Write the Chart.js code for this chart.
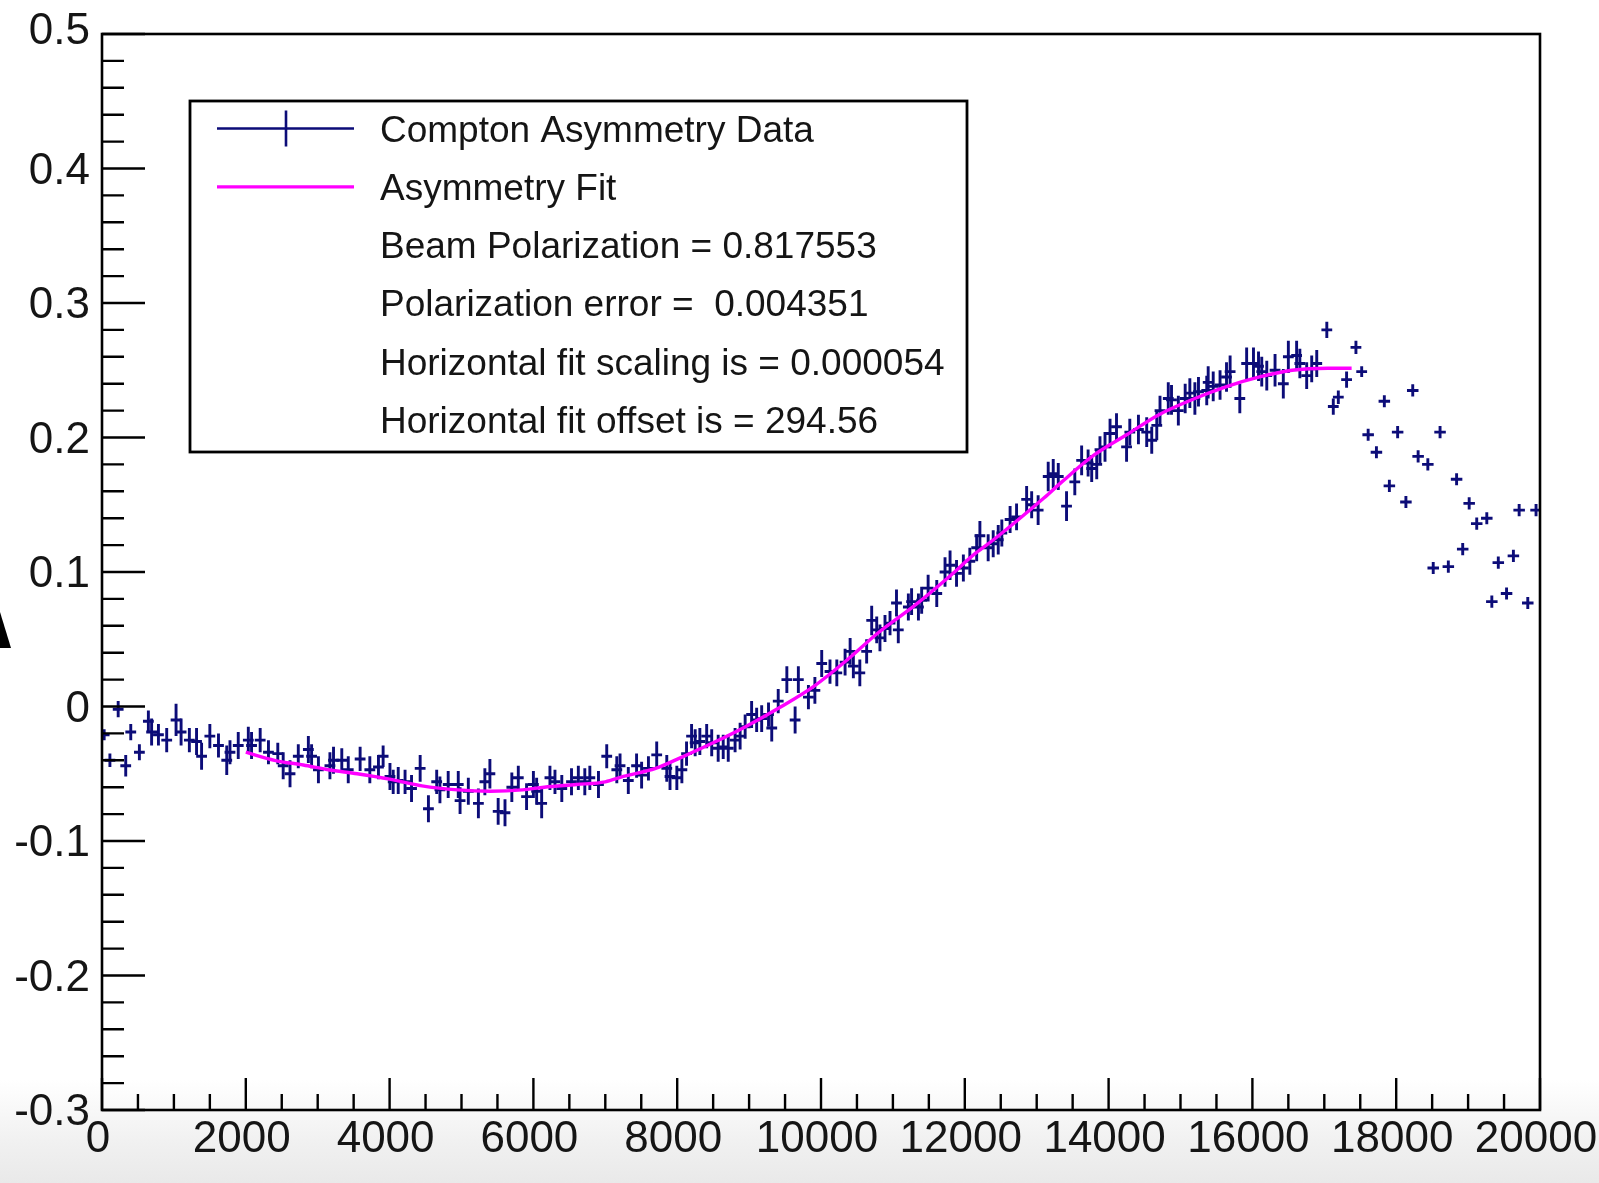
<!DOCTYPE html>
<html>
<head>
<meta charset="utf-8">
<script src="https://cdn.jsdelivr.net/npm/chart.js@4.4.1/dist/chart.umd.min.js"></script>
<style>
  html, body { margin: 0; padding: 0; }
  body {
    width: 1599px; height: 1183px; overflow: hidden;
    background: linear-gradient(to bottom, #ffffff 0px, #ffffff 1080px, #f1f1f1 1140px, #e9e9e9 1183px);
  }
  #wrap { position: relative; width: 1599px; height: 1183px; }
</style>
</head>
<body>
<div id="wrap"><canvas id="c" width="1599" height="1183"></canvas></div>
<script>
// Compton asymmetry data (x = channel, y = asymmetry, yErr = error bar half-height)
const dataX = [
  30, 110, 225, 330, 400, 520, 645, 690, 785, 900,
  1030, 1100, 1215, 1315, 1385, 1500, 1620, 1735, 1780, 1895,
  2035, 2080, 2200, 2315, 2445, 2520, 2615, 2730, 2870, 2915,
  3010, 3170, 3220, 3335, 3425, 3590, 3725, 3845, 3910, 4005,
  4050, 4120, 4215, 4305, 4425, 4540, 4655, 4700, 4815, 4955,
  4980, 5095, 5235, 5325, 5395, 5510, 5605, 5700, 5790, 5905,
  6000, 6045, 6115, 6230, 6300, 6395, 6530, 6625, 6715, 6785,
  6905, 7020, 7160, 7205, 7320, 7435, 7505, 7600, 7715, 7855,
  7900, 7995, 8065, 8130, 8200, 8250, 8315, 8410, 8480, 8570,
  8640, 8710, 8805, 8875, 8945, 9035, 9105, 9175, 9270, 9315,
  9405, 9525, 9640, 9685, 9825, 9915, 10010, 10125, 10220, 10335,
  10405, 10450, 10540, 10635, 10705, 10775, 10820, 10890, 10960, 11050,
  11075, 11215, 11260, 11355, 11400, 11490, 11610, 11725, 11795, 11885,
  11980, 12070, 12165, 12210, 12325, 12395, 12465, 12515, 12630, 12720,
  12860, 12930, 13020, 13160, 13230, 13300, 13415, 13530, 13625, 13715,
  13765, 13835, 13880, 13950, 14020, 14110, 14250, 14295, 14415, 14530,
  14600, 14670, 14715, 14830, 14875, 14970, 15065, 15130, 15200, 15250,
  15365, 15385, 15455, 15550, 15640, 15690, 15825, 15920, 16015, 16085,
  16130, 16200, 16315, 16430, 16500, 16615, 16660, 16755, 16825, 16895,
  17035, 17125, 17195, 17310, 17440, 17520
];
const dataY = [
  -0.021, -0.040, -0.002, -0.044, -0.019, -0.034, -0.011, -0.019, -0.021, -0.025,
  -0.010, -0.019, -0.025, -0.026, -0.037, -0.022, -0.029, -0.040, -0.034, -0.029,
  -0.025, -0.029, -0.025, -0.034, -0.035, -0.044, -0.050, -0.037, -0.032, -0.037,
  -0.047, -0.044, -0.040, -0.040, -0.047, -0.039, -0.047, -0.045, -0.037, -0.052,
  -0.056, -0.055, -0.056, -0.061, -0.046, -0.076, -0.056, -0.062, -0.058, -0.058,
  -0.070, -0.063, -0.072, -0.056, -0.050, -0.078, -0.079, -0.060, -0.053, -0.067,
  -0.058, -0.063, -0.072, -0.053, -0.056, -0.061, -0.056, -0.053, -0.056, -0.053,
  -0.058, -0.037, -0.047, -0.044, -0.055, -0.044, -0.051, -0.046, -0.036, -0.046,
  -0.052, -0.053, -0.047, -0.035, -0.022, -0.027, -0.026, -0.022, -0.027, -0.031,
  -0.030, -0.031, -0.025, -0.022, -0.015, -0.006, -0.010, -0.009, -0.006, -0.016,
  0.004, 0.020, -0.010, 0.020, 0.007, 0.012, 0.032, 0.026, 0.025, 0.033,
  0.041, 0.030, 0.025, 0.041, 0.064, 0.057, 0.051, 0.058, 0.062, 0.077,
  0.057, 0.074, 0.078, 0.074, 0.079, 0.088, 0.084, 0.100, 0.105, 0.099,
  0.103, 0.108, 0.118, 0.127, 0.118, 0.121, 0.124, 0.129, 0.139, 0.141,
  0.154, 0.150, 0.146, 0.171, 0.173, 0.171, 0.149, 0.167, 0.183, 0.181,
  0.177, 0.180, 0.191, 0.193, 0.203, 0.208, 0.193, 0.204, 0.206, 0.204,
  0.198, 0.209, 0.220, 0.229, 0.228, 0.220, 0.229, 0.233, 0.229, 0.234,
  0.235, 0.241, 0.238, 0.239, 0.245, 0.249, 0.229, 0.255, 0.255, 0.253,
  0.249, 0.246, 0.250, 0.240, 0.260, 0.261, 0.255, 0.246, 0.251, 0.255,
  0.280, 0.223, 0.230, 0.243, 0.267, 0.249
];
const dataYErr = [
  0.004, 0.005, 0.006, 0.008, 0.006, 0.006, 0.008, 0.010, 0.008, 0.009,
  0.012, 0.010, 0.009, 0.010, 0.010, 0.009, 0.009, 0.011, 0.009, 0.010,
  0.010, 0.010, 0.009, 0.009, 0.008, 0.010, 0.010, 0.009, 0.010, 0.009,
  0.010, 0.010, 0.010, 0.009, 0.010, 0.009, 0.010, 0.009, 0.008, 0.010,
  0.009, 0.010, 0.009, 0.010, 0.010, 0.010, 0.009, 0.010, 0.010, 0.010,
  0.010, 0.010, 0.011, 0.010, 0.011, 0.010, 0.010, 0.011, 0.009, 0.010,
  0.010, 0.010, 0.011, 0.009, 0.009, 0.010, 0.010, 0.009, 0.010, 0.009,
  0.010, 0.009, 0.010, 0.009, 0.010, 0.009, 0.010, 0.009, 0.010, 0.010,
  0.010, 0.009, 0.010, 0.009, 0.009, 0.010, 0.010, 0.009, 0.010, 0.010,
  0.009, 0.010, 0.009, 0.010, 0.009, 0.010, 0.009, 0.010, 0.009, 0.010,
  0.009, 0.010, 0.010, 0.010, 0.009, 0.010, 0.010, 0.009, 0.010, 0.010,
  0.010, 0.009, 0.010, 0.009, 0.011, 0.010, 0.010, 0.010, 0.009, 0.010,
  0.010, 0.010, 0.010, 0.010, 0.010, 0.010, 0.010, 0.011, 0.011, 0.010,
  0.010, 0.010, 0.010, 0.011, 0.010, 0.010, 0.011, 0.010, 0.010, 0.010,
  0.010, 0.010, 0.011, 0.011, 0.011, 0.010, 0.011, 0.010, 0.011, 0.010,
  0.010, 0.011, 0.010, 0.011, 0.011, 0.010, 0.011, 0.010, 0.011, 0.011,
  0.010, 0.011, 0.011, 0.012, 0.011, 0.011, 0.011, 0.011, 0.012, 0.011,
  0.011, 0.012, 0.011, 0.011, 0.011, 0.012, 0.011, 0.012, 0.012, 0.011,
  0.011, 0.011, 0.012, 0.011, 0.012, 0.011, 0.011, 0.010, 0.010, 0.010,
  0.006, 0.006, 0.005, 0.006, 0.005, 0.004
];
const dataXErr = 75;

// points past the fit range, tiny error bars
const tailX = [17610, 17725, 17835, 17905, 18020, 18135, 18230, 18305, 18440, 18515,
               18610, 18725, 18840, 18925, 19015, 19120, 19260, 19330, 19420, 19535,
               19630, 19710, 19830, 19945];
const tailY = [0.202, 0.189, 0.227, 0.164, 0.204, 0.152, 0.235, 0.186, 0.180, 0.103,
               0.204, 0.104, 0.169, 0.117, 0.151, 0.136, 0.140, 0.078, 0.107, 0.084,
               0.112, 0.146, 0.077, 0.146];
const tailYErr = 0.0045;
const tailXErr = 80;

// asymmetry fit curve
const fitX = [2000, 2400, 2800, 3150, 3550, 4000, 4450, 4950, 5400, 5850, 6150, 6600, 7000,
              7250, 7700, 8050, 8500, 8950, 9450, 9900, 10350, 10800, 11300, 11750, 12150,
              12400, 13100, 13350, 13800, 14250, 14700, 15200, 15650, 16100, 16550, 17050, 17380];
const fitY = [-0.034, -0.040, -0.0435, -0.047, -0.050, -0.054, -0.059, -0.062, -0.063, -0.062,
              -0.060, -0.058, -0.056, -0.052, -0.046, -0.038, -0.027, -0.015, 0.000, 0.015,
              0.034, 0.055, 0.075, 0.095, 0.114, 0.124, 0.155, 0.167, 0.187, 0.202, 0.217,
              0.229, 0.238, 0.245, 0.250, 0.2515, 0.2515];

const xTicks = [0, 2000, 4000, 6000, 8000, 10000, 12000, 14000, 16000, 18000, 20000];
const xTickLabels = ['0', '2000', '4000', '6000', '8000', '10000', '12000', '14000', '16000', '18000', '20000'];
const yTicks = [-0.3, -0.2, -0.1, 0, 0.1, 0.2, 0.3, 0.4, 0.5];
const yTickLabels = ['-0.3', '-0.2', '-0.1', '0', '0.1', '0.2', '0.3', '0.4', '0.5'];

const legendLines = [
  'Compton Asymmetry Data',
  'Asymmetry Fit',
  'Beam Polarization = 0.817553',
  'Polarization error =  0.004351',
  'Horizontal fit scaling is = 0.000054',
  'Horizontal fit offset is = 294.56'
];

const NAVY = '#0c0c78';
const MAGENTA = '#ff00ff';
const FONT = '"Liberation Sans", Arial, Helvetica, sans-serif';

function drawCrosses(chart, meta, xs, ys, errsY, errX) {
  const ctx = chart.ctx, xs_ = chart.scales.x, ys_ = chart.scales.y;
  meta.data.forEach((pt, i) => {
    const ey = Array.isArray(errsY) ? errsY[i] : errsY;
    const x0 = xs_.getPixelForValue(xs[i] - errX), x1 = xs_.getPixelForValue(xs[i] + errX);
    const y0 = ys_.getPixelForValue(ys[i] + ey), y1 = ys_.getPixelForValue(ys[i] - ey);
    ctx.beginPath();
    ctx.moveTo(x0, pt.y); ctx.lineTo(x1, pt.y);
    ctx.moveTo(pt.x, y0); ctx.lineTo(pt.x, y1);
    ctx.stroke();
  });
}

const errorBars = {
  id: 'errorBars',
  beforeDatasetsDraw(chart) {
    const ctx = chart.ctx, a = chart.chartArea;
    ctx.save();
    ctx.beginPath();
    ctx.rect(a.left, a.top, a.right - a.left, a.bottom - a.top);
    ctx.clip();
    ctx.strokeStyle = NAVY;
    ctx.lineWidth = 2.9;
    drawCrosses(chart, chart.getDatasetMeta(0), dataX, dataY, dataYErr, dataXErr);
    drawCrosses(chart, chart.getDatasetMeta(1), tailX, tailY, tailYErr, tailXErr);
    ctx.restore();
  }
};

const rootFrame = {
  id: 'rootFrame',
  afterDraw(chart) {
    const ctx = chart.ctx, a = chart.chartArea;
    const sx = chart.scales.x, sy = chart.scales.y;
    ctx.save();
    ctx.strokeStyle = '#000';
    ctx.fillStyle = '#000';
    ctx.lineWidth = 2.6;
    ctx.strokeRect(a.left, a.top, a.right - a.left, a.bottom - a.top);

    // ticks, ROOT style: inside the frame, bottom and left only
    ctx.lineWidth = 2.4;
    ctx.beginPath();
    for (let i = 0; i < xTicks.length; i++) {
      const px = sx.getPixelForValue(xTicks[i]);
      ctx.moveTo(px, a.bottom); ctx.lineTo(px, a.bottom - 32);
      if (i < xTicks.length - 1) {
        for (let k = 1; k < 4; k++) {
          const mx = sx.getPixelForValue(xTicks[i] + k * 500);
          ctx.moveTo(mx, a.bottom); ctx.lineTo(mx, a.bottom - 16);
        }
      }
    }
    for (let i = 0; i < yTicks.length; i++) {
      const py = sy.getPixelForValue(yTicks[i]);
      ctx.moveTo(a.left, py); ctx.lineTo(a.left + 43, py);
      if (i < yTicks.length - 1) {
        for (let k = 1; k < 5; k++) {
          const my = sy.getPixelForValue(yTicks[i] + k * 0.02);
          ctx.moveTo(a.left, my); ctx.lineTo(a.left + 22, my);
        }
      }
    }
    ctx.stroke();

    // tick labels
    ctx.fillStyle = '#151515';
    ctx.font = '44px ' + FONT;
    ctx.textAlign = 'center';
    ctx.textBaseline = 'alphabetic';
    xTicks.forEach((v, i) => {
      ctx.fillText(xTickLabels[i], sx.getPixelForValue(v) - 4, a.bottom + 42);
    });
    ctx.textAlign = 'right';
    yTicks.forEach((v, i) => {
      const shift = (i === yTicks.length - 1) ? -5 : 0;
      ctx.fillText(yTickLabels[i], a.left - 12, sy.getPixelForValue(v) + 15 + shift);
    });

    // stray glyph fragment at the left edge
    ctx.fillStyle = '#000';
    ctx.beginPath();
    ctx.moveTo(0, 612); ctx.lineTo(11, 648); ctx.lineTo(0, 648);
    ctx.closePath();
    ctx.fill();

    // legend box
    const bx = 190, by = 101, bw = 777, bh = 351;
    ctx.fillStyle = '#fff';
    ctx.fillRect(bx, by, bw, bh);
    ctx.strokeStyle = '#000';
    ctx.lineWidth = 2.8;
    ctx.strokeRect(bx, by, bw, bh);
    const rowY = i => 128.5 + i * 58.3;
    ctx.strokeStyle = NAVY;
    ctx.lineWidth = 2.6;
    ctx.beginPath();
    ctx.moveTo(217, rowY(0)); ctx.lineTo(354, rowY(0));
    ctx.moveTo(286, rowY(0) - 18); ctx.lineTo(286, rowY(0) + 18);
    ctx.stroke();
    ctx.strokeStyle = MAGENTA;
    ctx.lineWidth = 3.2;
    ctx.beginPath();
    ctx.moveTo(217, rowY(1)); ctx.lineTo(354, rowY(1));
    ctx.stroke();
    ctx.fillStyle = '#151515';
    ctx.font = '37px ' + FONT;
    ctx.textAlign = 'left';
    legendLines.forEach((t, i) => ctx.fillText(t, 380, rowY(i) + 13));
    ctx.restore();
  }
};

new Chart(document.getElementById('c'), {
  type: 'scatter',
  data: {
    datasets: [
      {
        label: 'Compton Asymmetry Data',
        data: dataX.map((x, i) => ({ x: x, y: dataY[i] })),
        pointRadius: 0, pointHoverRadius: 0, borderColor: NAVY
      },
      {
        label: 'tail',
        data: tailX.map((x, i) => ({ x: x, y: tailY[i] })),
        pointRadius: 0, pointHoverRadius: 0, borderColor: NAVY
      },
      {
        type: 'line',
        label: 'Asymmetry Fit',
        data: fitX.map((x, i) => ({ x: x, y: fitY[i] })),
        borderColor: MAGENTA, borderWidth: 3.4, pointRadius: 0,
        fill: false, tension: 0.3, cubicInterpolationMode: 'monotone'
      }
    ]
  },
  options: {
    responsive: false,
    animation: false,
    events: [],
    layout: { padding: { left: 102, right: 59, top: 34, bottom: 73 } },
    plugins: { legend: { display: false }, tooltip: { enabled: false } },
    scales: {
      x: { type: 'linear', min: 0, max: 20000, display: false },
      y: { type: 'linear', min: -0.3, max: 0.5, display: false }
    }
  },
  plugins: [errorBars, rootFrame]
});
</script>
</body>
</html>
